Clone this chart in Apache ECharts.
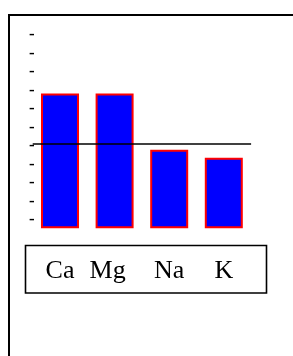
<!DOCTYPE html>
<html>
<head>
<meta charset="utf-8">
<script src="https://cdn.jsdelivr.net/npm/echarts@6/dist/echarts.min.js"></script>
<style>
  html, body { margin: 0; padding: 0; background: #fff; }
  #main { width: 293px; height: 356px; }
</style>
</head>
<body>
<div id="main"></div>
<script>
var categories = ['Ca', 'Mg', 'Na', 'K'];
var values = [72.8, 72.8, 42.5, 38.2];
var refLine = 45.9;
var yMin = 0;
var yMax = 100;
var yStep = 10;

var myChart = echarts.init(document.getElementById('main'));

var option = {
    animation: false,
    backgroundColor: '#fff',
    grid: { left: 32.7, right: 41.9, top: 43.3, bottom: 127.7 },
    xAxis: {
        type: 'category',
        data: categories,
        axisLine: { show: false },
        axisTick: { show: false },
        axisLabel: {
            interval: 0,
            hideOverlap: false,
            margin: 43,
            verticalAlign: 'middle',
            color: '#000',
            fontFamily: 'Liberation Serif',
            fontSize: 26,
            // Mg sits a bit left of its bar in the original
            formatter: function (v) { return v === 'Mg' ? '{s|' + v + '}' : v; },
            rich: {
                s: { fontFamily: 'Liberation Serif', fontSize: 26, color: '#000', padding: [0, 14, 0, 0] }
            }
        }
    },
    yAxis: {
        type: 'value',
        min: yMin,
        max: yMax,
        interval: yStep,
        splitLine: { show: false },
        axisLine: { show: false },
        axisTick: { show: false },
        axisLabel: {
            showMinLabel: true,
            showMaxLabel: true,
            hideOverlap: false,
            // the dashes sit a little above each tick value
            formatter: function () { return '{d|-}'; },
            margin: -2,
            verticalAlign: 'bottom',
            rich: {
                d: {
                    color: '#000',
                    fontFamily: 'Liberation Serif',
                    fontSize: 17,
                    fontWeight: 'bold',
                    lineHeight: 11,
                    verticalAlign: 'bottom'
                }
            }
        }
    },
    graphic: [
        {
            type: 'rect',
            shape: { x: 9, y: 15, width: 400, height: 400 },
            style: { fill: 'none', stroke: '#000', lineWidth: 2 },
            z: 10
        },
        {
            type: 'rect',
            shape: { x: 25.5, y: 245.5, width: 241, height: 47.5 },
            style: { fill: 'none', stroke: '#000', lineWidth: 1.6 },
            z: 10
        }
    ],
    series: [{
        type: 'bar',
        data: values,
        barWidth: 38,
        itemStyle: { color: '#0000ff', borderColor: '#ff0000', borderWidth: 2 },
        markLine: {
            silent: true,
            symbol: 'none',
            label: { show: false },
            lineStyle: { color: '#000', width: 1.6, type: 'solid' },
            data: [{ yAxis: refLine }]
        }
    }]
};

myChart.setOption(option);
</script>
</body>
</html>
